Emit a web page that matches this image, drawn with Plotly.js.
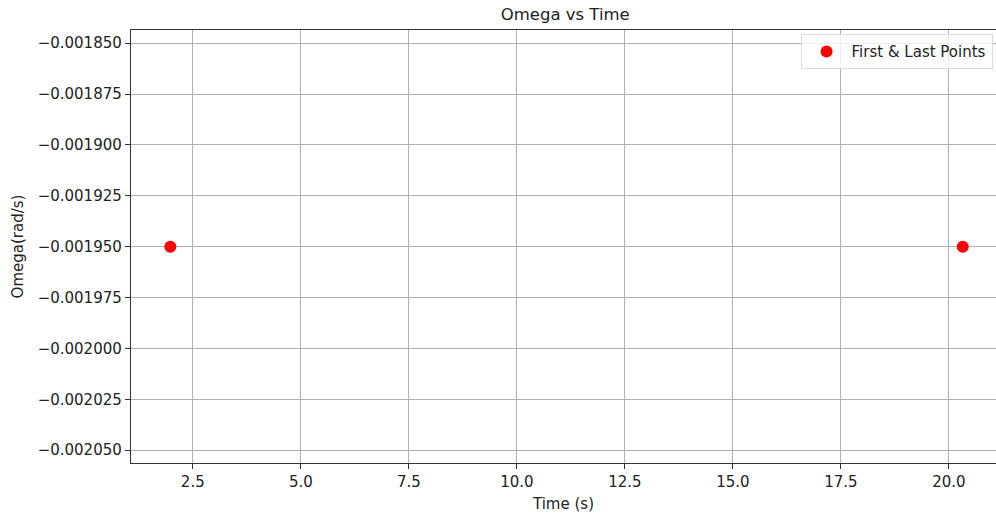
<!DOCTYPE html>
<html>
<head>
<meta charset="utf-8">
<script src="https://cdn.plot.ly/plotly-3.0.1.min.js"></script>
<style>html,body{margin:0;padding:0;background:#fff;}#chart{width:996px;height:516px;}</style>
</head>
<body>
<div id="chart"></div>
<script>
const timeValues = [1.98, 20.32];
const omegaValues = [-0.00195, -0.00195];
const seriesName = "First & Last Points";
const yTicks = [-0.00185, -0.001875, -0.0019, -0.001925, -0.00195, -0.001975, -0.002, -0.002025, -0.00205];

const font = "DejaVu Sans, sans-serif";
const data = [{
  x: timeValues, y: omegaValues, type: "scatter", mode: "markers", name: seriesName,
  marker: {color: "#ff0000", size: 12, line: {width: 0}}
}];
const layout = {
  width: 996, height: 516,
  margin: {l: 131, r: 0, t: 30, b: 53, pad: 0},
  paper_bgcolor: "#fff", plot_bgcolor: "#fff",
  font: {family: font, size: 14, color: "#222"},
  title: {text: "Omega vs Time", font: {family: font, size: 16.5, color: "#222"}, x: 0.5675, xanchor: "center", y: 0.972, yanchor: "middle"},
  showlegend: true,
  legend: {x: 0.996, xanchor: "right", y: 0.99, yanchor: "top", bgcolor: "rgba(255,255,255,0.8)", bordercolor: "#dcdcdc", borderwidth: 1, itemwidth: 40, font: {family: font, size: 15, color: "#222"}},
  xaxis: {
    range: [1.07, 21.09], tick0: 0, dtick: 2.5, tickformat: ".1f",
    showgrid: true, gridcolor: "#b0b0b0", gridwidth: 1,
    zeroline: false, showline: true, linecolor: "#333", linewidth: 1.2, mirror: true,
    ticks: "outside", ticklen: 5, tickcolor: "#333",
    tickfont: {family: font, size: 15, color: "#222"},
    title: {text: "Time (s)", font: {family: font, size: 15, color: "#222"}, standoff: 8}
  },
  yaxis: {
    range: [-0.0020563, -0.0018435], tickvals: yTicks, tickformat: ".6f",
    showgrid: true, gridcolor: "#b0b0b0", gridwidth: 1,
    zeroline: false, showline: true, linecolor: "#333", linewidth: 1.2, mirror: false,
    ticks: "outside", ticklen: 5, tickcolor: "#333",
    tickfont: {family: font, size: 15, color: "#222"},
    title: {text: "Omega(rad/s)", font: {family: font, size: 15, color: "#222"}, standoff: 10}
  }
};
Plotly.newPlot("chart", data, layout, {displayModeBar: false, staticPlot: true});
</script>
</body>
</html>
